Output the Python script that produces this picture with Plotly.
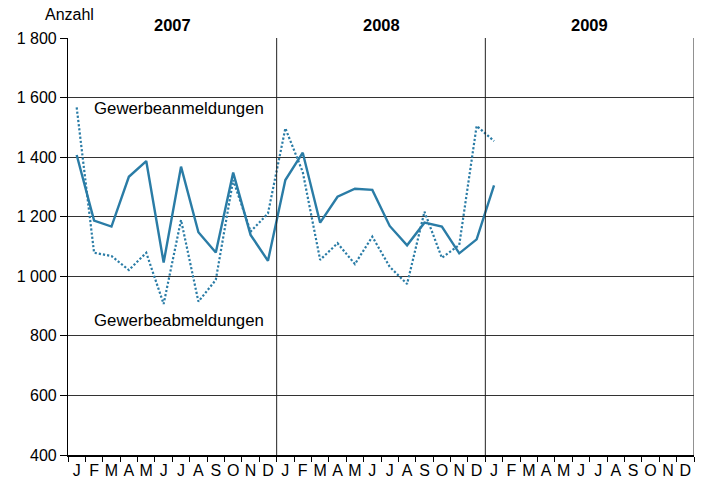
import plotly.graph_objects as go

months = ["J","F","M","A","M","J","J","A","S","O","N","D"] * 3
years = ["2007", "2008", "2009"]
anmeldungen = [1407, 1187, 1167, 1334, 1387, 1046, 1368, 1148, 1080, 1348, 1139, 1052,
               1323, 1415, 1180, 1267, 1294, 1290, 1169, 1104, 1180, 1167, 1077, 1124,
               1305]
abmeldungen = [1567, 1079, 1068, 1021, 1079, 907, 1189, 915, 988, 1323, 1150, 1211,
               1497, 1350, 1055, 1111, 1041, 1133, 1032, 974, 1217, 1062, 1105, 1505,
               1454]
y_ticks = [400, 600, 800, 1000, 1200, 1400, 1600, 1800]
y_ticktext = ["400", "600", "800", "1 000", "1 200", "1 400", "1 600", "1 800"]

color = "#2a7ca6"
font = "Liberation Sans, Arial, sans-serif"

fig = go.Figure()
fig.add_trace(go.Scatter(x=list(range(len(anmeldungen))), y=anmeldungen, mode="lines",
                         line=dict(color=color, width=2.4), showlegend=False))
fig.add_trace(go.Scatter(x=list(range(len(abmeldungen))), y=abmeldungen, mode="lines",
                         line=dict(color=color, width=2.2, dash="2.2px,2px"), showlegend=False))

for b in [11.5, 23.5]:
    fig.add_shape(type="line", x0=b, x1=b, y0=0, y1=1, xref="x", yref="paper",
                  line=dict(color="#222", width=1))
fig.add_shape(type="line", x0=35.5, x1=35.5, y0=0, y1=1, xref="x", yref="paper",
              line=dict(color="#222", width=1))

for i, yr in enumerate(years):
    fig.add_annotation(x=i * 12 + 5.5, y=1.0, xref="x", yref="paper", text="<b>" + yr + "</b>",
                       showarrow=False, yanchor="bottom", yshift=2,
                       font=dict(size=16.5, color="#000", family=font))
fig.add_annotation(x=-0.5, y=1.0, xref="x", yref="paper", text="Anzahl", showarrow=False,
                   xanchor="center", yanchor="bottom", xshift=1, yshift=13,
                   font=dict(size=16, color="#000", family=font))
fig.add_annotation(x=0.88, y=1562, xref="x", yref="y", text="Gewerbeanmeldungen", showarrow=False,
                   xanchor="left", font=dict(size=16.8, color="#000", family=font))
fig.add_annotation(x=0.88, y=853, xref="x", yref="y", text="Gewerbeabmeldungen", showarrow=False,
                   xanchor="left", font=dict(size=16.8, color="#000", family=font))

fig.update_layout(
    width=704, height=486,
    margin=dict(l=68, r=10, t=38, b=31),
    paper_bgcolor="white", plot_bgcolor="white",
    font=dict(family=font, size=16, color="#000"),
    xaxis=dict(range=[-0.5, 35.5], tickmode="array", tickvals=list(range(36)),
               ticktext=months, ticks="", showgrid=False, zeroline=False,
               showline=True, linecolor="#000", linewidth=1.5, automargin=False,
               tickfont=dict(size=16, family=font),
               minor=dict(ticks="outside", tickmode="linear", tick0=-0.5, dtick=1,
                          ticklen=5, tickcolor="#000", showgrid=False)),
    yaxis=dict(range=[400, 1800], tickmode="array", tickvals=y_ticks, ticktext=y_ticktext,
               ticks="outside", ticklen=7, tickcolor="#000", showgrid=True,
               gridcolor="#333", gridwidth=1, zeroline=False, showline=True, automargin=False,
               linecolor="#000", linewidth=1.2, tickfont=dict(size=16, family=font)),
)

fig.write_html("out.html", config={"displayModeBar": False},
               post_script="document.body.style.margin='0';document.body.style.overflow='hidden';")
